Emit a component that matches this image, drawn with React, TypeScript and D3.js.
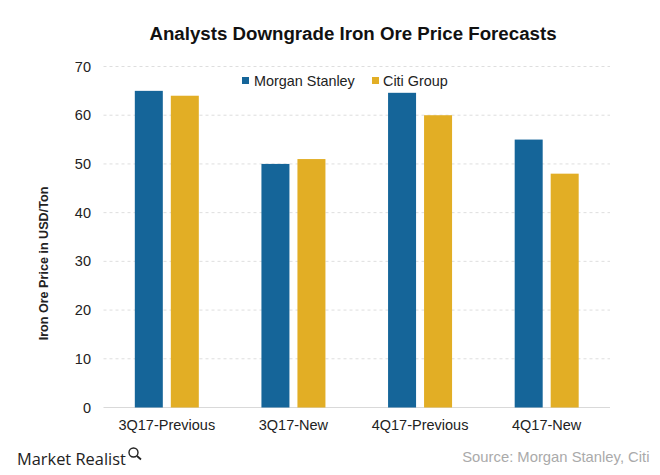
import * as d3 from "d3";

const categories = ["3Q17-Previous", "3Q17-New", "4Q17-Previous", "4Q17-New"];
const seriesNames = ["Morgan Stanley", "Citi Group"];
const morganStanley = [65, 50, 64.6, 55];
const citiGroup = [64, 51, 60, 48];
const yTicks = [0, 10, 20, 30, 40, 50, 60, 70];

const colors = ["#156599", "#e2ae25"];
const fontFamily = "Arial, 'Liberation Sans', sans-serif";
const width = 660;
const height = 475;

export default function App() {
  const x = d3.scaleBand<string>().domain(categories).range([103.5, 610]);
  const y = d3.scaleLinear().domain([0, 70]).range([407.5, 66.5]);
  const barW = 28;
  const gap = 8;
  const groupW = barW * 2 + gap;
  const series = [morganStanley, citiGroup];

  return (
    <svg
      width={width}
      height={height}
      style={{ position: "absolute", left: 0, top: 0, background: "#fff" }}
      fontFamily={fontFamily}
    >
      <text x={353} y={40} textAnchor="middle" fontSize={18.7} fontWeight="bold" fill="#111">
        Analysts Downgrade Iron Ore Price Forecasts
      </text>

      {yTicks.map((t) => (
        <g key={t}>
          {t > 0 && (
            <line
              x1={103.5}
              x2={610}
              y1={y(t)}
              y2={y(t)}
              stroke="#dedede"
              strokeDasharray="3 3"
            />
          )}
          <text x={91} y={y(t) + 5} textAnchor="end" fontSize={14.5} fill="#222">
            {t}
          </text>
        </g>
      ))}
      <line x1={103.5} x2={610} y1={y(0)} y2={y(0)} stroke="#d9d9d9" />

      {categories.map((c, i) => {
        const left = (x(c) ?? 0) + x.bandwidth() / 2 - groupW / 2;
        return (
          <g key={c}>
            {series.map((s, j) => (
              <rect
                key={seriesNames[j]}
                x={left + j * (barW + gap)}
                y={y(s[i])}
                width={barW}
                height={y(0) - y(s[i])}
                fill={colors[j]}
              />
            ))}
            <text
              x={(x(c) ?? 0) + x.bandwidth() / 2}
              y={430}
              textAnchor="middle"
              fontSize={14.5}
              fill="#222"
            >
              {c}
            </text>
          </g>
        );
      })}

      <text
        transform={`translate(48,263.5) rotate(-90)`}
        textAnchor="middle"
        fontSize={12.6}
        fontWeight="bold"
        fill="#222"
      >
        Iron Ore Price in USD/Ton
      </text>

      <rect x={242} y={77} width={7} height={7} fill={colors[0]} />
      <text x={254} y={86} fontSize={14.4} fill="#222">
        {seriesNames[0]}
      </text>
      <rect x={372} y={77} width={7} height={7} fill={colors[1]} />
      <text x={383} y={86} fontSize={14.4} fill="#222">
        {seriesNames[1]}
      </text>

      <text x={17} y={465} fontSize={16.4} fontFamily="'Open Sans', sans-serif" fill="#222">
        Market Realist
      </text>
      <circle cx={133.5} cy={452.5} r={4.5} fill="none" stroke="#222" strokeWidth={1.4} />
      <line x1={137} y1={456} x2={141} y2={459.5} stroke="#222" strokeWidth={1.8} />

      <text x={649.5} y={461.5} textAnchor="end" fontSize={14.8} fill="#aaa">
        Source: Morgan Stanley, Citi
      </text>
    </svg>
  );
}
